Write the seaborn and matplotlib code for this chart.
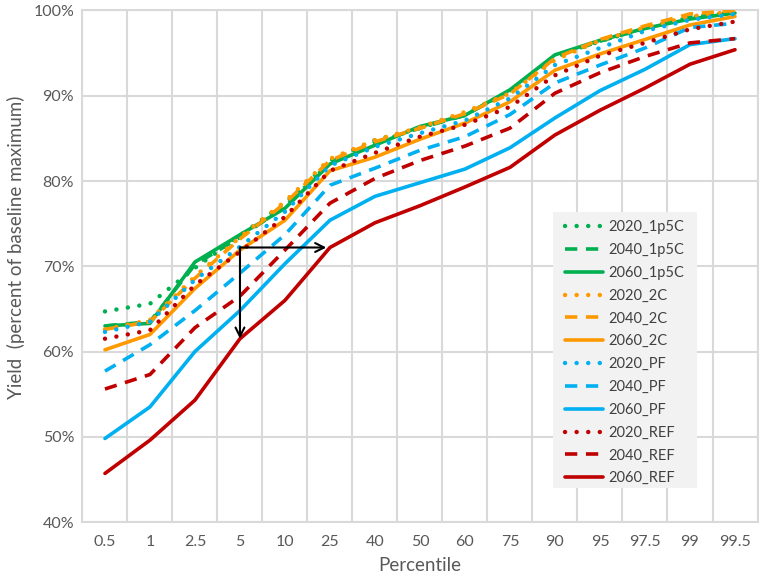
import matplotlib
matplotlib.use("Agg")
import matplotlib.pyplot as plt
import seaborn as sns
import pandas as pd
from matplotlib.ticker import FuncFormatter, FixedLocator
from matplotlib.patches import Rectangle

percentiles = ['0.5', '1', '2.5', '5', '10', '25', '40', '50', '60', '75', '90', '95', '97.5', '99', '99.5']

y2020_1p5C = [64.7, 65.6, 69.8, 73.6, 77.4, 82.4, 84.8, 86.2, 87.9, 90.5, 94.5, 96.4, 97.9, 99.2, 99.8]
y2040_1p5C = [63.0, 63.5, 70.2, 73.4, 77.0, 82.2, 84.5, 86.2, 87.7, 90.6, 94.6, 96.4, 97.9, 99.2, 99.8]
y2060_1p5C = [63.0, 63.3, 70.5, 73.7, 76.8, 82.0, 84.2, 86.4, 87.7, 90.7, 94.8, 96.5, 97.9, 99.0, 99.7]
y2020_2C = [62.6, 63.7, 68.8, 73.4, 77.6, 82.6, 84.8, 86.3, 88.1, 90.3, 94.2, 96.5, 98.0, 99.3, 99.9]
y2040_2C = [62.6, 63.5, 68.6, 73.2, 77.4, 82.4, 84.6, 86.2, 87.9, 90.2, 94.4, 96.6, 98.2, 99.6, 100.0]
y2060_2C = [60.2, 62.0, 67.4, 71.9, 75.4, 81.2, 82.8, 84.9, 86.8, 89.3, 93.0, 94.9, 96.6, 98.3, 99.3]
y2020_PF = [62.3, 63.5, 68.4, 72.3, 76.4, 81.8, 84.0, 85.6, 87.1, 89.7, 93.6, 95.6, 97.6, 98.9, 99.6]
y2040_PF = [57.7, 60.8, 64.8, 69.2, 73.7, 79.5, 81.5, 83.6, 85.2, 87.8, 91.5, 93.6, 95.6, 98.0, 98.5]
y2060_PF = [49.8, 53.5, 60.0, 64.8, 70.3, 75.4, 78.2, 79.8, 81.4, 83.9, 87.4, 90.6, 93.1, 96.0, 96.7]
y2020_REF = [61.5, 62.5, 67.8, 71.7, 75.8, 81.2, 83.3, 85.2, 86.6, 88.7, 92.4, 94.7, 96.2, 97.8, 98.7]
y2040_REF = [55.6, 57.3, 62.8, 66.5, 71.9, 77.4, 80.3, 82.4, 84.1, 86.2, 90.3, 92.7, 94.6, 96.2, 96.7]
y2060_REF = [45.7, 49.6, 54.3, 61.5, 66.0, 72.2, 75.1, 77.1, 79.3, 81.6, 85.4, 88.3, 90.9, 93.7, 95.4]

series_names = ['2020_1p5C', '2040_1p5C', '2060_1p5C', '2020_2C', '2040_2C', '2060_2C',
                '2020_PF', '2040_PF', '2060_PF', '2020_REF', '2040_REF', '2060_REF']
series_values = [y2020_1p5C, y2040_1p5C, y2060_1p5C, y2020_2C, y2040_2C, y2060_2C,
                 y2020_PF, y2040_PF, y2060_PF, y2020_REF, y2040_REF, y2060_REF]

GREEN, ORANGE, BLUE, RED = '#00B050', '#FF9900', '#00B0F0', '#C00000'
colors = {'1p5C': GREEN, '2C': ORANGE, 'PF': BLUE, 'REF': RED}
DOT = (0, (0.01, 2.6))
DASH = (0, (3.4, 2.4))
styles = {'2020': DOT, '2040': DASH, '2060': '-'}
widths = {'2020': 3.2, '2040': 2.6, '2060': 2.6}

sns.set_theme(style='white')
plt.rcParams['font.family'] = ['Lato', 'DejaVu Sans']

fig = plt.figure(figsize=(7.65, 5.83), dpi=100)
ax = fig.add_axes([0.1078, 0.1046, 0.8824, 0.8774])

xpos = list(range(len(percentiles)))
for name, vals in zip(series_names, series_values):
    year, scen = name.split('_')
    df = pd.DataFrame({'x': xpos, 'y': [v / 100 for v in vals]})
    cap = 'round' if year == '2020' else 'butt'
    sns.lineplot(data=df, x='x', y='y', ax=ax, color=colors[scen], linestyle=styles[year],
                 linewidth=widths[year], label=name, dash_capstyle=cap, solid_capstyle='round',
                 zorder=3)

# arrows derived from the 2060_REF series
i5 = percentiles.index('5')
i25 = percentiles.index('25')
yh = y2060_REF[i25] / 100
ax.annotate('', xy=(i25 - 0.08, yh), xytext=(i5, yh),
            arrowprops=dict(arrowstyle='->', color='black', lw=1.5, mutation_scale=16,
                            shrinkA=0, shrinkB=0), zorder=5)
ax.annotate('', xy=(i5, y2060_REF[i5] / 100), xytext=(i5, yh),
            arrowprops=dict(arrowstyle='->', color='black', lw=1.5, mutation_scale=16,
                            shrinkA=0, shrinkB=0), zorder=5)

ax.set_xlim(-0.5, len(percentiles) - 0.5)
ax.set_ylim(0.40, 1.00)
ax.set_xticks(xpos)
ax.set_xticklabels(percentiles)
ax.set_yticks([0.4, 0.5, 0.6, 0.7, 0.8, 0.9, 1.0])
ax.yaxis.set_major_formatter(FuncFormatter(lambda v, p: f'{v*100:.0f}%'))
ax.xaxis.set_minor_locator(FixedLocator([i - 0.5 for i in range(len(percentiles) + 1)]))

grid_c = '#D9D9D9'
ax.grid(True, which='major', axis='y', color=grid_c, linewidth=1.5, zorder=0)
ax.grid(True, which='minor', axis='x', color=grid_c, linewidth=1.5, zorder=0)
ax.grid(False, which='major', axis='x')
for s in ax.spines.values():
    s.set_color(grid_c)
    s.set_linewidth(1.5)
ax.tick_params(axis='both', which='both', length=0, labelsize=11.5, labelcolor='#595959')
ax.tick_params(axis='x', pad=9)
ax.tick_params(axis='y', pad=6)

ax.set_xlabel('Percentile', fontsize=13.5, color='#595959', labelpad=6)
ax.set_ylabel('Yield  (percent of baseline maximum)', fontsize=13.5, color='#595959', labelpad=7)
ax.yaxis.set_label_coords(-0.0856, 0.537)

# legend background panel
ax.add_patch(Rectangle((0.697, 0.0665), 0.213, 0.5395, transform=ax.transAxes,
                       facecolor='#F2F2F2', edgecolor='none', zorder=5.5))
leg = ax.legend(loc='upper left', bbox_to_anchor=(0.715, 0.590), frameon=False,
                fontsize=10.5, handlelength=2.6, handletextpad=0.35, labelspacing=0.605,
                borderpad=0.0, borderaxespad=0)
for t in leg.get_texts():
    t.set_color('#404040')
leg.set_zorder(6)

fig.savefig('out.png', dpi=100)
